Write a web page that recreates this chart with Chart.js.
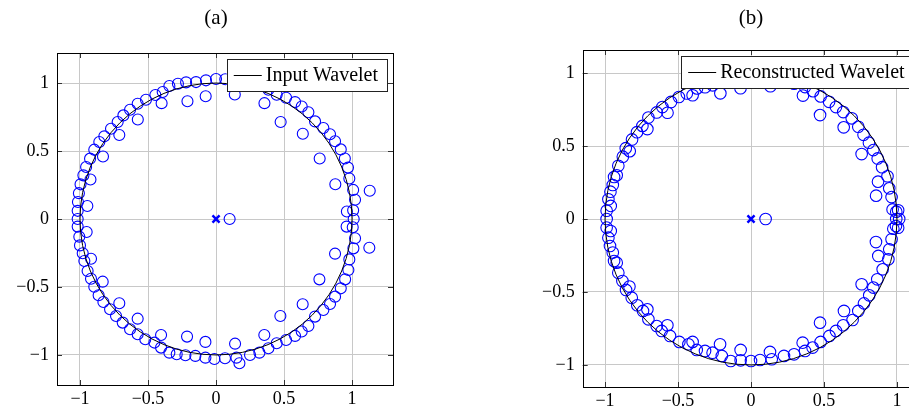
<!DOCTYPE html>
<html><head><meta charset="utf-8">
<script src="https://cdn.jsdelivr.net/npm/chart.js@4/dist/chart.umd.min.js"></script>
<style>
html,body{margin:0;padding:0;width:909px;height:410px;overflow:hidden;background:#fff;}
canvas{position:absolute;top:0;}
#ca{left:0;}
#cb{left:520px;}
</style></head><body>
<canvas id="ca" width="420" height="410"></canvas>
<canvas id="cb" width="420" height="410"></canvas>
<script>
// ---------- data ----------
const tickValues = [-1, -0.5, 0, 0.5, 1];
const tickLabels = ['\u22121', '\u22120.5', '0', '0.5', '1'];

const titleA = '(a)';
const titleB = '(b)';
const legendA = 'Input Wavelet';
const legendB = 'Reconstructed Wavelet';

// poles (x markers)
const polesAX = [0];
const polesAY = [0];
const polesBX = [0];
const polesBY = [0];

// zeros of panel (a)
const zerosAX = [
 -1.017,-1.017,-1.015,-1.008,-0.996,-0.975,-0.955,-0.926,-0.895,-0.858,-0.821,-0.772,-0.723,-0.681,-0.632,-0.576,-0.515,-0.446,-0.392,-0.343,-0.280,-0.220,-0.147,-0.074,0.000,0.068,0.150,0.172,0.250,0.319,0.385,0.446,0.515,0.581,0.630,0.679,0.728,0.789,0.838,0.875,0.917,0.947,0.970,0.980,1.008,1.022,1.008,0.962,1.012,
 -0.946,-0.923,-0.831,-0.711,-0.575,-0.400,-0.210,-0.076,0.138,0.356,0.475,0.638,0.762,0.877,1.130,0.100,
 -1.017,-1.005,-1.000,-0.980,-0.968,-0.944,-0.919,-0.895,-0.863,-0.828,-0.779,-0.735,-0.686,-0.632,-0.576,-0.520,-0.453,-0.404,-0.343,-0.289,-0.225,-0.152,-0.078,-0.012,0.066,0.150,0.172,0.250,0.319,0.385,0.446,0.515,0.581,0.630,0.679,0.728,0.789,0.838,0.875,0.917,0.949,0.973,0.980,1.010,1.022,1.005,0.960,
 -0.951,-0.919,-0.833,-0.711,-0.576,-0.404,-0.213,-0.078,0.140,0.355,0.473,0.637,0.760,0.875,1.127
];
const zerosAY = [
 0.000,0.060,0.125,0.190,0.255,0.321,0.382,0.444,0.510,0.566,0.608,0.664,0.713,0.762,0.804,0.848,0.877,0.912,0.934,0.978,0.995,1.005,1.007,1.020,1.030,1.028,1.020,1.060,1.000,0.983,0.951,0.914,0.892,0.860,0.828,0.785,0.718,0.669,0.623,0.572,0.512,0.445,0.378,0.298,0.214,0.142,0.064,0.055,0.000,
 0.096,0.290,0.460,0.618,0.732,0.852,0.866,0.903,0.916,0.852,0.713,0.627,0.445,0.256,0.208,0.000,
 -0.056,-0.130,-0.194,-0.252,-0.309,-0.382,-0.439,-0.498,-0.561,-0.610,-0.664,-0.713,-0.762,-0.811,-0.848,-0.885,-0.909,-0.946,-0.983,-0.995,-1.002,-1.007,-1.020,-1.030,-1.024,-1.020,-1.061,-1.000,-0.983,-0.951,-0.914,-0.890,-0.860,-0.828,-0.787,-0.718,-0.669,-0.625,-0.571,-0.510,-0.444,-0.375,-0.297,-0.216,-0.142,-0.061,-0.056,
 -0.096,-0.292,-0.461,-0.620,-0.733,-0.853,-0.865,-0.904,-0.917,-0.853,-0.713,-0.627,-0.444,-0.255,-0.211
];

// zeros of panel (b)
const zerosBX = [
 -0.989,-0.989,-0.961,-0.977,-0.963,-0.947,-0.938,-0.920,-0.909,-0.878,-0.831,-0.858,-0.815,-0.781,-0.710,-0.744,-0.703,-0.646,-0.572,-0.607,-0.548,-0.494,-0.440,-0.400,-0.370,-0.315,-0.263,-0.210,-0.200,-0.139,-0.072,-0.071,0.000,0.062,0.133,0.142,0.226,0.295,0.356,0.370,0.425,0.473,0.477,0.535,0.582,0.635,0.632,0.690,0.735,0.758,0.771,0.808,0.838,0.868,0.898,0.857,0.870,0.935,0.947,0.963,0.970,0.995,1.008,0.995,1.015,0.100,
 -0.989,-0.961,-0.977,-0.966,-0.947,-0.938,-0.920,-0.909,-0.881,-0.833,-0.856,-0.817,-0.779,-0.710,-0.740,-0.703,-0.646,-0.573,-0.612,-0.555,-0.491,-0.429,-0.400,-0.372,-0.315,-0.263,-0.212,-0.200,-0.139,-0.071,-0.071,0.000,0.062,0.130,0.142,0.226,0.295,0.354,0.370,0.422,0.473,0.477,0.537,0.582,0.637,0.632,0.696,0.735,0.758,0.774,0.810,0.838,0.865,0.902,0.856,0.872,0.941,0.947,0.963,0.975,0.993,1.008
];
const zerosBY = [
 0.000,0.057,0.090,0.135,0.187,0.233,0.288,0.300,0.365,0.427,0.465,0.485,0.545,0.595,0.616,0.638,0.695,0.730,0.728,0.767,0.802,0.836,0.860,0.848,0.895,0.903,0.916,0.861,0.938,0.973,0.896,0.968,0.973,0.966,0.910,0.960,0.938,0.927,0.846,0.904,0.876,0.712,0.840,0.803,0.767,0.628,0.733,0.690,0.632,0.445,0.577,0.523,0.472,0.415,0.355,0.160,0.256,0.293,0.210,0.150,0.066,0.050,0.060,0.000,0.000,0.000,
 -0.059,-0.082,-0.128,-0.185,-0.230,-0.288,-0.299,-0.368,-0.425,-0.463,-0.486,-0.539,-0.591,-0.619,-0.630,-0.687,-0.733,-0.728,-0.767,-0.801,-0.842,-0.858,-0.842,-0.897,-0.904,-0.916,-0.858,-0.938,-0.973,-0.897,-0.968,-0.973,-0.966,-0.911,-0.961,-0.938,-0.927,-0.847,-0.904,-0.881,-0.710,-0.842,-0.801,-0.767,-0.630,-0.728,-0.692,-0.630,-0.447,-0.578,-0.523,-0.470,-0.413,-0.345,-0.158,-0.253,-0.276,-0.208,-0.139,-0.066,-0.048,-0.060
];

// ---------- drawing ----------
const FONT = '"Liberation Serif", "DejaVu Serif", serif';
const BLUE = '#0000ff';

function pts(xs, ys){ return xs.map((x,i)=>({x:x, y:ys[i]})); }

function decorPlugin(title, legendText){
  return {
    id: 'decor',
    afterDatasetsDraw(chart){
      const ctx = chart.ctx, xs = chart.scales.x, ys = chart.scales.y, a = chart.chartArea;
      // unit circle (reference curve of the legend entry)
      const cx = xs.getPixelForValue(0), cy = ys.getPixelForValue(0);
      const rx = xs.getPixelForValue(1) - cx, ry = cy - ys.getPixelForValue(1);
      ctx.save();
      ctx.beginPath(); ctx.rect(a.left, a.top, a.right-a.left, a.bottom-a.top); ctx.clip();
      ctx.beginPath();
      ctx.ellipse(cx, cy, rx, ry, 0, 0, Math.PI*2);
      ctx.strokeStyle = '#000'; ctx.lineWidth = 1; ctx.stroke();
      ctx.restore();
    },
    afterDraw(chart){
      const ctx = chart.ctx, xs = chart.scales.x, ys = chart.scales.y, a = chart.chartArea;
      ctx.save();
      // tick marks on all four sides
      ctx.strokeStyle = '#333'; ctx.lineWidth = 1;
      const L = 5;
      ctx.beginPath();
      tickValues.forEach(v=>{
        const px = Math.round(xs.getPixelForValue(v)) + 0.5;
        ctx.moveTo(px, a.bottom); ctx.lineTo(px, a.bottom - L);
        ctx.moveTo(px, a.top); ctx.lineTo(px, a.top + L);
        const py = Math.round(ys.getPixelForValue(v)) + 0.5;
        ctx.moveTo(a.left, py); ctx.lineTo(a.left + L, py);
        ctx.moveTo(a.right, py); ctx.lineTo(a.right - L, py);
      });
      ctx.stroke();
      // frame
      ctx.strokeStyle = '#000'; ctx.lineWidth = 1;
      ctx.strokeRect(Math.round(a.left)+0.5, Math.round(a.top)+0.5, Math.round(a.right-a.left), Math.round(a.bottom-a.top));
      // legend
      ctx.font = '20px ' + FONT;
      const tw = ctx.measureText(legendText).width;
      const right = a.right - 6, top = a.top + 6, h = 32;
      const w = 7 + 28 + 4 + tw + 9;
      const left = right - w;
      ctx.fillStyle = '#fff';
      ctx.fillRect(left, top, w, h);
      ctx.strokeStyle = '#222'; ctx.lineWidth = 1;
      ctx.strokeRect(Math.round(left)+0.5, Math.round(top)+0.5, Math.round(w), h);
      const my = top + h/2;
      ctx.beginPath(); ctx.moveTo(left+7, my+0.5); ctx.lineTo(left+35, my+0.5);
      ctx.strokeStyle = '#000'; ctx.stroke();
      ctx.fillStyle = '#000'; ctx.textBaseline = 'middle'; ctx.textAlign = 'left';
      ctx.fillText(legendText, left + 39, my + 1);
      // title
      ctx.font = '21px ' + FONT;
      ctx.textAlign = 'center';
      ctx.fillText(title, xs.getPixelForValue(0), 18);
      ctx.restore();
    }
  };
}

function makeChart(id, zx, zy, px, py, rng, yAxisW, xAxisH, pad, title, legendText, rad){
  return new Chart(document.getElementById(id), {
    type: 'scatter',
    data: { datasets: [
      { label: 'zeros', data: pts(zx, zy), pointStyle: 'circle', pointRadius: rad, pointHoverRadius: rad,
        borderColor: BLUE, backgroundColor: 'rgba(0,0,0,0)', borderWidth: 1.1, showLine: false },
      { label: 'poles', data: pts(px, py), pointStyle: 'crossRot', pointRadius: 5, pointHoverRadius: 5,
        borderColor: BLUE, backgroundColor: BLUE, borderWidth: 2.5, showLine: false }
    ]},
    options: {
      responsive: false, animation: false,
      layout: { padding: pad },
      plugins: { legend: { display: false }, tooltip: { enabled: false }, title: { display: false } },
      scales: {
        x: { type: 'linear', min: rng[0], max: rng[1],
             afterBuildTicks: s => { s.ticks = tickValues.map(v=>({value:v})); },
             afterFit: s => { s.height = xAxisH; },
             ticks: { callback: (v)=> tickLabels[tickValues.indexOf(v)], color: '#000', padding: 3,
                      font: { family: FONT, size: 18 }, maxRotation: 0, autoSkip: false },
             grid: { color: '#c8c8c8', lineWidth: 1, drawTicks: false },
             border: { display: false } },
        y: { type: 'linear', min: rng[2], max: rng[3],
             afterBuildTicks: s => { s.ticks = tickValues.map(v=>({value:v})); },
             afterFit: s => { s.width = yAxisW; },
             ticks: { callback: (v)=> tickLabels[tickValues.indexOf(v)], color: '#000', padding: 8,
                      font: { family: FONT, size: 18 }, autoSkip: false },
             grid: { color: '#c8c8c8', lineWidth: 1, drawTicks: false },
             border: { display: false } }
      }
    },
    plugins: [decorPlugin(title, legendText)]
  });
}

makeChart('ca', zerosAX, zerosAY, polesAX, polesAY, [-1.169, 1.301, -1.221, 1.221], 57, 25,
          {top: 53, right: 27, left: 0, bottom: 0}, titleA, legendA, 5.5);
makeChart('cb', zerosBX, zerosBY, polesBX, polesBY, [-1.153, 1.155, -1.151, 1.158], 62.7, 23,
          {top: 50, right: 20.4, left: 0, bottom: 0}, titleB, legendB, 5.8);
</script>
</body></html>
